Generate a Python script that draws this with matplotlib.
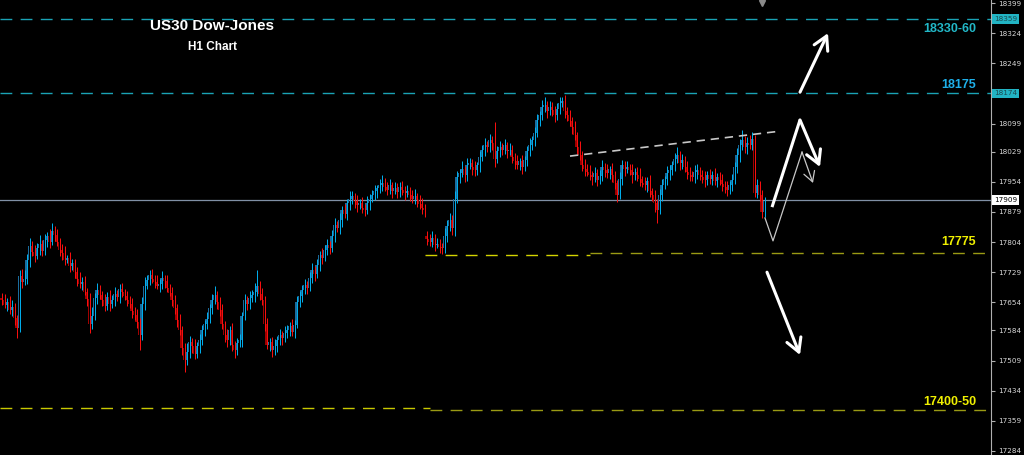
import matplotlib
matplotlib.use("Agg")
import matplotlib.pyplot as plt
from matplotlib.transforms import blended_transform_factory

# ========== DATA ==========
# US30 hourly candles (open = previous close unless a gap)
FIRST_OPEN = 17665
GAP_OPENS = {170: 17818}

CLOSES = [
    17660, 17648, 17655, 17635, 17642, 17615, 17590, 17720, 17705, 17712,
    17760, 17795, 17780, 17770, 17788, 17800, 17782, 17810, 17818, 17805,
    17832, 17822, 17805, 17785, 17778, 17760, 17765, 17745, 17752, 17730,
    17712, 17700, 17705, 17680, 17662, 17600, 17620, 17665, 17685, 17672,
    17660, 17645, 17668, 17650, 17660, 17675, 17668, 17688, 17680, 17670,
    17660, 17650, 17632, 17622, 17605, 17572, 17650, 17695, 17710, 17722,
    17712, 17705, 17695, 17700, 17715, 17708, 17690, 17678, 17660, 17640,
    17610, 17585, 17540, 17510, 17530, 17555, 17545, 17525, 17545, 17560,
    17585, 17600, 17612, 17640, 17660, 17672, 17655, 17635, 17600, 17572,
    17560, 17585, 17548, 17535, 17552, 17560, 17620, 17660, 17650, 17665,
    17672, 17680, 17695, 17675, 17660, 17600, 17548, 17555, 17535, 17545,
    17560, 17572, 17565, 17578, 17585, 17595, 17580, 17598, 17655, 17670,
    17685, 17697, 17690, 17715, 17734, 17725, 17748, 17772, 17765, 17785,
    17797, 17790, 17820, 17846, 17838, 17860, 17884, 17875, 17900, 17910,
    17918, 17905, 17896, 17900, 17890, 17884, 17900, 17912, 17921, 17930,
    17938, 17946, 17952, 17940, 17934, 17945, 17932, 17939, 17928, 17940,
    17934, 17925, 17930, 17921, 17912, 17918, 17909, 17898, 17890, 17884,
    17812, 17805, 17815, 17797, 17800, 17792, 17789, 17820, 17845, 17860,
    17840, 17912, 17965, 17975, 17985, 17970, 17996, 18000, 17990, 17983,
    17995, 18015, 18033, 18045, 18040, 18058, 18050, 18010, 18030, 18040,
    18033, 18045, 18030, 18033, 18015, 18005, 17996, 18005, 17990, 18008,
    18030, 18045, 18058, 18075, 18108, 18120, 18140, 18145, 18130, 18140,
    18133, 18120, 18135, 18150, 18155, 18130, 18120, 18105, 18090, 18070,
    18040, 18020, 17996, 17985, 17978, 17971, 17965, 17975, 17958, 17968,
    17990, 17983, 17975, 17985, 17971, 17950, 17921, 17960, 17996, 17985,
    17990, 17983, 17970, 17978, 17971, 17960, 17950, 17946, 17955, 17930,
    17921, 17900, 17884, 17920, 17946, 17960, 17975, 17983, 17995, 18010,
    18020, 18000, 18008, 17990, 17978, 17971, 17965, 17978, 17983, 17970,
    17965, 17958, 17970, 17962, 17971, 17955, 17965, 17958, 17948, 17940,
    17934, 17945, 17958, 17990, 18020, 18045, 18058, 18040, 18050, 18045,
    18060, 17925, 17946, 17921, 17880, 17906,
]

UPPER_WICKS = [
    12, 15, 9, 14, 18, 11, 8, 15, 18, 22,
    15, 18, 11, 16, 13, 22, 9, 15, 11, 18,
    20, 11, 15, 9, 13, 16, 8, 15, 11, 9,
    13, 18, 11, 15, 9, 16, 22, 11, 18, 13,
    9, 15, 11, 16, 13, 18, 9, 11, 15, 8,
    13, 9, 16, 11, 15, 9, 18, 22, 11, 13,
    15, 9, 16, 11, 18, 8, 13, 9, 15, 11,
    9, 16, 11, 13, 22, 15, 9, 18, 11, 16,
    13, 9, 18, 11, 15, 22, 9, 13, 16, 8,
    15, 11, 18, 9, 13, 16, 11, 15, 9, 18,
    13, 22, 39, 11, 15, 9, 16, 11, 13, 18,
    9, 15, 11, 16, 13, 9, 18, 11, 15, 13,
    11, 16, 9, 15, 18, 11, 13, 9, 16, 11,
    15, 9, 13, 18, 11, 16, 9, 15, 11, 22,
    13, 9, 16, 11, 15, 9, 18, 11, 13, 16,
    9, 15, 18, 11, 13, 16, 9, 15, 11, 13,
    16, 9, 15, 11, 13, 18, 9, 11, 15, 9,
    13, 11, 16, 9, 15, 11, 9, 18, 13, 16,
    11, 18, 15, 11, 22, 9, 16, 13, 11, 15,
    9, 16, 13, 18, 11, 15, 9, 53, 13, 16,
    11, 15, 9, 18, 13, 11, 16, 9, 15, 11,
    13, 18, 11, 16, 15, 9, 18, 20, 11, 16,
    13, 9, 15, 15, 11, 16, 9, 13, 11, 15,
    9, 16, 11, 15, 13, 18, 9, 16, 11, 15,
    18, 11, 15, 9, 16, 11, 9, 18, 13, 11,
    15, 9, 16, 11, 13, 18, 9, 15, 11, 16,
    9, 13, 11, 16, 15, 9, 18, 13, 11, 16,
    20, 11, 15, 9, 16, 13, 11, 18, 15, 9,
    13, 16, 11, 15, 9, 18, 11, 13, 16, 9,
    15, 11, 16, 13, 18, 15, 25, 11, 16, 20,
    18, 11, 15, 9, 13, 11,
]

LOWER_WICKS = [
    13, 9, 16, 11, 15, 18, 25, 11, 16, 9,
    13, 18, 11, 15, 9, 16, 13, 11, 18, 15,
    9, 16, 11, 15, 18, 13, 9, 16, 11, 15,
    18, 11, 15, 9, 16, 22, 13, 11, 15, 9,
    16, 13, 11, 18, 9, 15, 11, 16, 13, 9,
    15, 11, 18, 13, 16, 37, 11, 15, 9, 13,
    11, 16, 9, 15, 13, 18, 11, 9, 16, 15,
    18, 13, 16, 30, 11, 15, 18, 13, 9, 16,
    11, 15, 13, 9, 16, 11, 18, 15, 13, 16,
    18, 11, 15, 20, 13, 9, 16, 11, 15, 13,
    9, 16, 11, 15, 13, 18, 11, 16, 18, 13,
    15, 11, 18, 9, 13, 16, 11, 15, 9, 13,
    16, 11, 15, 9, 13, 18, 11, 15, 16, 9,
    13, 16, 11, 15, 9, 13, 18, 11, 15, 16,
    11, 15, 18, 9, 13, 16, 11, 15, 9, 13,
    16, 11, 15, 9, 13, 11, 18, 9, 15, 11,
    13, 16, 9, 15, 11, 13, 18, 11, 15, 18,
    15, 11, 13, 16, 9, 15, 14, 11, 16, 13,
    18, 20, 11, 15, 9, 16, 13, 11, 18, 15,
    11, 16, 9, 15, 13, 11, 16, 18, 9, 15,
    13, 11, 16, 9, 15, 18, 11, 13, 16, 9,
    15, 11, 13, 16, 9, 15, 11, 13, 18, 9,
    15, 16, 11, 13, 9, 18, 15, 11, 16, 13,
    18, 11, 15, 16, 9, 13, 18, 11, 15, 9,
    13, 16, 11, 15, 18, 13, 18, 11, 15, 16,
    9, 13, 18, 11, 15, 16, 9, 13, 18, 15,
    16, 20, 33, 11, 15, 9, 13, 16, 11, 15,
    9, 16, 13, 11, 18, 15, 9, 13, 16, 11,
    15, 18, 11, 13, 16, 9, 15, 11, 18, 13,
    16, 11, 15, 9, 13, 16, 11, 15, 18, 9,
    13, 10, 11, 15, 16, 13,
]

TICK_PRICES = [18399, 18324, 18249, 18174, 18099, 18029, 17954, 17879,
               17804, 17729, 17654, 17584, 17509, 17434, 17359, 17284]
HIGHLIGHT_PRICES = [18359, 18174]
CURRENT_PRICE = 17909

# support / resistance zones: (label, label price, colour)
ZONE_LABELS = [("18330-60", 18334, "#22b8c8"),
               ("18175", 18195, "#1eb0ea"),
               ("17775", 17804, "#f0f000"),
               ("17400-50", 17406, "#f0f000")]

# dashed levels: (x start, x end, price, colour)
LEVEL_LINES = [(-0.6, 396, 18359, "#1aa3b5"),
               (-0.6, 396, 18175, "#1aa3b5"),
               (169.4, 235.4, 17772, "#d4d400"),
               (235.4, 396, 17777, "#9a9a14"),
               (-0.6, 171.4, 17391, "#c8c800"),
               (171.4, 396, 17387, "#9a9a14")]

TREND_LINE = ([227.4, 311.4], [18018, 18080])

# hand-drawn scenario arrows (bar offset, price)
UP_ARROW = [(319.4, 18177), (330.6, 18324)]
DOWN_ARROW = [(306.2, 17729), (319.4, 17523)]
ZIGZAG_BOLD = [(308.2, 17891), (319.4, 18108), (327.4, 17991)]
ZIGZAG_THIN = [(305.4, 17864), (308.6, 17807), (320.2, 18028), (324.6, 17951)]
# ===========================

BULL_WICK, BULL_BODY = "#00b2f2", "#1a6c9e"
BEAR_WICK, BEAR_BODY = "#ff1010", "#a00000"
DOJI_BODY = "#00a800"


def draw_candles(ax):
    n = min(len(CLOSES), len(UPPER_WICKS), len(LOWER_WICKS))
    opens = [FIRST_OPEN] + CLOSES[:n - 1]
    for i, val in GAP_OPENS.items():
        opens[i] = val
    xs, bottoms, heights, body_cols = [], [], [], []
    lows, highs, wick_cols = [], [], []
    for i in range(n):
        o, c = opens[i], CLOSES[i]
        top, bot = max(o, c), min(o, c)
        if c - o > 1:
            bc, wc = BULL_BODY, BULL_WICK
        elif o - c > 1:
            bc, wc = BEAR_BODY, BEAR_WICK
        else:
            bc, wc = DOJI_BODY, BULL_WICK
        xs.append(i)
        bottoms.append(bot)
        heights.append(max(top - bot, 2))
        body_cols.append(bc)
        lows.append(bot - LOWER_WICKS[i])
        highs.append(top + UPPER_WICKS[i])
        wick_cols.append(wc)
    # MT4 style at this zoom: dark body with the bright wick on its right edge
    ax.bar([x - 0.12 for x in xs], heights, bottom=bottoms, width=0.62,
           color=body_cols, linewidth=0, zorder=3)
    ax.vlines([x + 0.32 for x in xs], lows, highs, colors=wick_cols,
              linewidth=0.7, zorder=4)


def arrow(ax, start, end, lw, color, scale):
    ax.annotate("", xy=end, xytext=start,
                arrowprops=dict(arrowstyle="->,head_length=0.8,head_width=0.45",
                                color=color, lw=lw, mutation_scale=scale,
                                shrinkA=0, shrinkB=0),
                zorder=8)


def main():
    fig = plt.figure(figsize=(10.24, 4.55), dpi=100, facecolor="black")
    ax = fig.add_axes([0, 0, 991 / 1024, 1])
    ax.set_facecolor("black")
    ax.set_xlim(-0.6, -0.6 + 991 / 2.5)
    ax.set_ylim(17274, 18406.5)

    for side in ["top", "left", "bottom"]:
        ax.spines[side].set_visible(False)
    ax.spines["right"].set_color("#b0b0b0")
    ax.spines["right"].set_linewidth(0.8)
    ax.set_xticks([])
    ax.yaxis.tick_right()
    ax.set_yticks(TICK_PRICES)
    # prices that get a coloured box on the scale carry no plain label
    ax.set_yticklabels(["" if p in HIGHLIGHT_PRICES else str(p)
                        for p in TICK_PRICES])
    ax.tick_params(axis="y", colors="#b0b0b0", labelcolor="#d8d8d8",
                   length=3, width=0.8, pad=2, labelsize=5.2)

    # levels
    for x0, x1, price, col in LEVEL_LINES:
        ax.plot([x0, x1], [price, price], color=col, lw=1,
                dashes=(8.5, 6), zorder=2)
    ax.axhline(CURRENT_PRICE, color="#8090a6", lw=0.9, zorder=2)
    ax.plot(TREND_LINE[0], TREND_LINE[1], color="#c8c8c8", lw=1.2,
            dashes=(5, 3.5), zorder=5)

    draw_candles(ax)

    # scenario arrows
    arrow(ax, UP_ARROW[0], UP_ARROW[1], 2.2, "white", 12)
    arrow(ax, DOWN_ARROW[0], DOWN_ARROW[1], 2.2, "white", 12)
    zx, zy = zip(*ZIGZAG_BOLD[:-1])
    ax.plot(zx, zy, color="white", lw=2.2, zorder=8, solid_capstyle="butt")
    arrow(ax, ZIGZAG_BOLD[-2], ZIGZAG_BOLD[-1], 2.2, "white", 12)
    tx, ty = zip(*ZIGZAG_THIN[:-1])
    ax.plot(tx, ty, color="#c8c8c8", lw=0.9, zorder=8)
    arrow(ax, ZIGZAG_THIN[-2], ZIGZAG_THIN[-1], 0.9, "#c8c8c8", 9)

    # chart shift marker
    ax.plot([762 / 991], [0.993], marker="v", markersize=4.5,
            color="#8a8a8a", transform=ax.transAxes, clip_on=False)

    # price boxes on the scale
    trans = blended_transform_factory(fig.transFigure, ax.transData)
    for p in HIGHLIGHT_PRICES:
        fig.text(994 / 1024, p, str(p), transform=trans, ha="left",
                 va="center", fontsize=5.2, color="#1a4a50",
                 bbox=dict(boxstyle="square,pad=0.25", fc="#22b4c4", ec="none"))
    fig.text(994 / 1024, CURRENT_PRICE, str(CURRENT_PRICE), transform=trans,
             ha="left", va="center", fontsize=5.2, color="black",
             bbox=dict(boxstyle="square,pad=0.25", fc="white", ec="none"))

    # zone labels
    for text, p, col in ZONE_LABELS:
        fig.text(976 / 1024, p, text, transform=trans, ha="right",
                 va="center", fontsize=9, fontweight="bold", color=col,
                 family="Liberation Sans")

    fig.text(212 / 1024, 1 - 26.5 / 455, "US30 Dow-Jones", ha="center",
             va="center", fontsize=11, fontweight="bold", color="white",
             family="Liberation Sans")
    fig.text(212 / 1024, 1 - 47.5 / 455, "H1 Chart", ha="center",
             va="center", fontsize=8.5, fontweight="bold", color="white",
             family="Liberation Sans")

    fig.savefig("out.png", dpi=100, facecolor="black")
    plt.close(fig)


if __name__ == "__main__":
    main()
